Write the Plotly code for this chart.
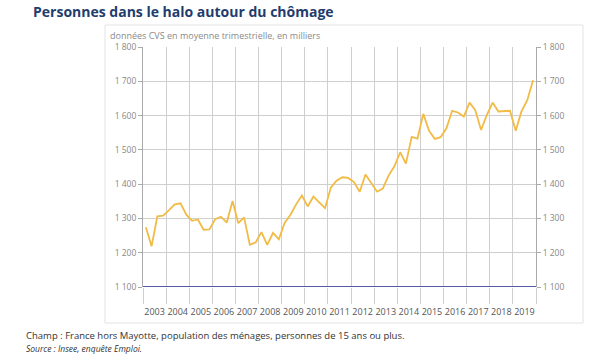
import pandas as pd
import plotly.graph_objects as go

# Data: quarterly values (thousands), 2003Q1 .. 2019Q4
years = list(range(2003, 2020))
quarters = [1, 2, 3, 4]
halo = [
    1274, 1219, 1306, 1308,   # 2003
    1324, 1341, 1344, 1311,   # 2004
    1293, 1297, 1267, 1268,   # 2005
    1298, 1305, 1288, 1351,   # 2006
    1286, 1303, 1223, 1230,   # 2007
    1260, 1223, 1258, 1239,   # 2008
    1287, 1310, 1341, 1367,   # 2009
    1335, 1364, 1347, 1330,   # 2010
    1390, 1410, 1420, 1418,   # 2011
    1406, 1378, 1428, 1404,   # 2012
    1378, 1387, 1425, 1452,   # 2013
    1493, 1460, 1538, 1533,   # 2014
    1605, 1556, 1532, 1537,   # 2015
    1563, 1614, 1609, 1597,   # 2016
    1638, 1616, 1558, 1602,   # 2017
    1638, 1612, 1612, 1614,   # 2018
    1556, 1612, 1645, 1703,   # 2019
]
y_tickvals = [1100, 1200, 1300, 1400, 1500, 1600, 1700, 1800]
y_ticktext = ["1 100", "1 200", "1 300", "1 400", "1 500", "1 600", "1 700", "1 800"]

title = "Personnes dans le halo autour du chômage"
subtitle = "données CVS en moyenne trimestrielle, en milliers"
note1 = "Champ : France hors Mayotte, population des ménages, personnes de 15 ans ou plus."
note2 = "<i>Source : Insee, enquête Emploi.</i>"

# quarter midpoints as dates
dates = []
for yr in years:
    for q in quarters:
        start = pd.Timestamp(year=yr, month=3 * (q - 1) + 1, day=1)
        end = start + pd.DateOffset(months=3)
        dates.append(start + (end - start) / 2)

W, H = 600, 360
L, R, T, B = 143, 64, 47, 73
pw, ph = W - L - R, H - T - B

def px(x):
    return (x - L) / pw

def py(y):
    return (H - B - y) / ph

font = "Open Sans, Noto Sans, sans-serif"
grid = "#cfcfcf"

fig = go.Figure()
fig.add_trace(go.Scatter(
    x=dates, y=halo, mode="lines",
    line=dict(color="#f1bb45", width=1.8),
    showlegend=False, hoverinfo="x+y",
))
fig.add_trace(go.Scatter(
    x=dates, y=halo, mode="lines", yaxis="y2",
    line=dict(color="rgba(0,0,0,0)", width=0),
    showlegend=False, hoverinfo="skip",
))

fig.update_layout(
    width=W, height=H,
    margin=dict(l=L, r=R, t=T, b=B),
    paper_bgcolor="white", plot_bgcolor="white",
    font=dict(family=font, color="#777777", size=9),
    title=dict(
        text="<b>" + title + "</b>",
        x=33 / W, xanchor="left", xref="container",
        y=1 - 12 / H, yanchor="middle", yref="container",
        font=dict(family=font, size=14, color="#1f3d6d"),
    ),
    xaxis=dict(
        type="date",
        range=["2003-01-01", "2020-01-01"],
        dtick="M12", tick0="2003-01-01",
        ticklabelmode="period", tickformat="%Y",
        showgrid=True, gridcolor=grid, gridwidth=1,
        ticks="outside", ticklen=16, tickcolor=grid, tickwidth=1,
        showline=False,
        tickfont=dict(size=9, color="#555555"),
        zeroline=False, fixedrange=True,
    ),
    yaxis=dict(
        range=[1100, 1800],
        tickvals=y_tickvals, ticktext=y_ticktext,
        showgrid=True, gridcolor=grid, gridwidth=1,
        ticks="outside", ticklen=4, tickcolor="#aaaaaa",
        showline=True, linecolor="#aaaaaa", linewidth=1,
        tickfont=dict(size=8.5, color="#888888"),
        zeroline=False,
    ),
    yaxis2=dict(
        range=[1100, 1800], overlaying="y", side="right", anchor="x",
        tickvals=y_tickvals, ticktext=y_ticktext,
        showgrid=False,
        ticks="outside", ticklen=4, tickcolor="#aaaaaa",
        showline=True, linecolor="#aaaaaa", linewidth=1,
        tickfont=dict(size=8.5, color="#888888"),
        zeroline=False,
    ),
    shapes=[
        dict(type="rect", xref="paper", yref="paper",
             x0=px(105), x1=px(583), y0=py(323), y1=py(25),
             line=dict(color="#e3e3e3", width=1), fillcolor="rgba(0,0,0,0)",
             layer="below"),
        dict(type="line", xref="paper", yref="y",
             x0=0, x1=1, y0=1100, y1=1100,
             line=dict(color="#1f2485", width=1.6), layer="above"),
    ],
    annotations=[
        dict(text=subtitle, xref="paper", yref="paper", x=px(108), y=py(36),
             xanchor="left", yanchor="middle", showarrow=False,
             font=dict(size=9, color="#8a8a8a", family=font)),
        dict(text=note1, xref="paper", yref="paper", x=px(24), y=py(335),
             xanchor="left", yanchor="middle", showarrow=False,
             font=dict(size=9.5, color="#333333", family=font)),
        dict(text=note2, xref="paper", yref="paper", x=px(24), y=py(348),
             xanchor="left", yanchor="middle", showarrow=False,
             font=dict(size=8.5, color="#333333", family=font)),
    ],
)

fig.write_html("out.html", config={"displayModeBar": False},
               post_script="document.body.style.margin='0';")
